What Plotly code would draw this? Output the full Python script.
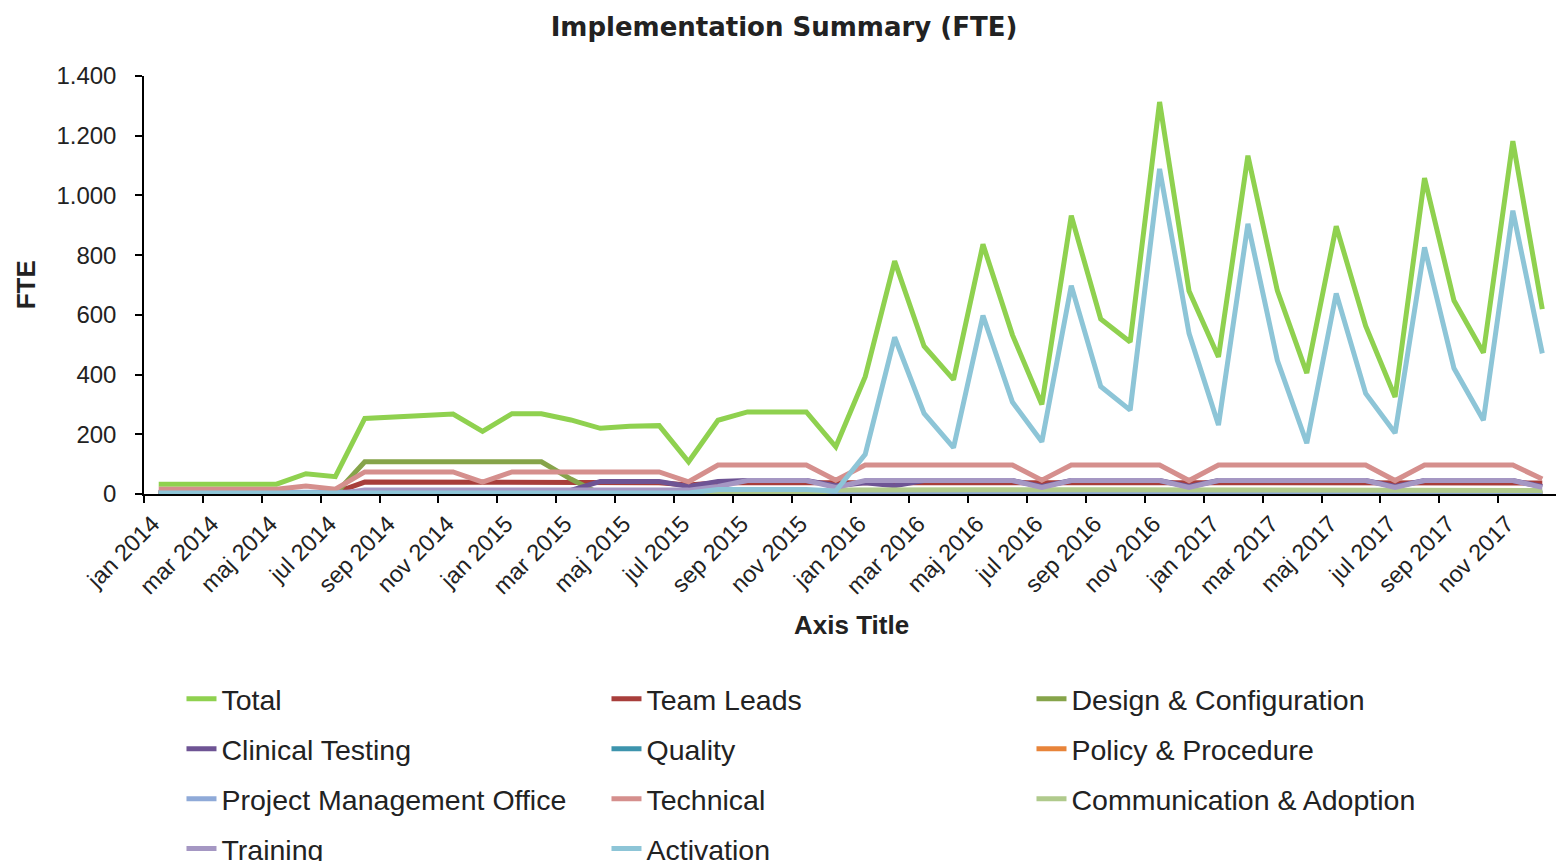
import plotly.graph_objects as go

months = [
    "jan 2014", "feb 2014", "mar 2014", "apr 2014", "maj 2014", "jun 2014",
    "jul 2014", "aug 2014", "sep 2014", "okt 2014", "nov 2014", "dec 2014",
    "jan 2015", "feb 2015", "mar 2015", "apr 2015", "maj 2015", "jun 2015",
    "jul 2015", "aug 2015", "sep 2015", "okt 2015", "nov 2015", "dec 2015",
    "jan 2016", "feb 2016", "mar 2016", "apr 2016", "maj 2016", "jun 2016",
    "jul 2016", "aug 2016", "sep 2016", "okt 2016", "nov 2016", "dec 2016",
    "jan 2017", "feb 2017", "mar 2017", "apr 2017", "maj 2017", "jun 2017",
    "jul 2017", "aug 2017", "sep 2017", "okt 2017", "nov 2017", "dec 2017",
]

total = [33, 33, 33, 33, 33, 68, 58, 253, 258, 262, 268, 210,
         269, 269, 248, 220, 227, 229, 108, 247, 275, 275, 275, 158,
         393, 780, 495, 383, 836, 533, 300, 932, 586, 509, 1313, 680,
         459, 1133, 681, 405, 897, 563, 325, 1058, 648, 473, 1182, 619]

team_leads = [5, 5, 5, 5, 5, 5, 5, 40, 40, 40, 40, 40,
              38, 38, 38, 38, 38, 38, 30, 38, 38, 38, 38, 38,
              38, 38, 38, 38, 38, 38, 36, 38, 38, 38, 38, 38,
              38, 38, 38, 38, 38, 38, 36, 38, 38, 38, 38, 37]

design_config = [0, 0, 0, 0, 0, 0, 0, 108, 108, 108, 108, 108,
                 108, 108, 50, 0, 0, 0, 0, 0, 0, 0, 0, 0,
                 0, 0, 0, 0, 0, 0, 0, 0, 0, 0, 0, 0,
                 0, 0, 0, 0, 0, 0, 0, 0, 0, 0, 0, 0]

clinical_testing = [0, 0, 0, 0, 0, 0, 0, 0, 0, 0, 0, 0,
                    0, 0, 12, 42, 42, 42, 25, 42, 45, 45, 45, 28,
                    38, 28, 45, 45, 45, 45, 25, 45, 45, 45, 45, 25,
                    45, 45, 45, 45, 45, 45, 25, 45, 45, 45, 45, 25]

quality = [3, 3, 3, 3, 3, 3, 3, 3, 3, 3, 3, 3,
           3, 3, 3, 3, 3, 3, 3, 3, 3, 3, 3, 3,
           3, 3, 3, 3, 3, 3, 3, 3, 3, 3, 3, 3,
           3, 3, 3, 3, 3, 3, 3, 3, 3, 3, 3, 3]

policy_procedure = [0, 0, 0, 0, 0, 0, 0, 0, 0, 0, 0, 0,
                    0, 0, 0, 0, 0, 0, 0, 2, 2, 2, 2, 2,
                    2, 2, 2, 2, 2, 2, 2, 2, 2, 2, 2, 2,
                    2, 2, 2, 2, 2, 2, 2, 2, 2, 2, 2, 2]

pmo = [6, 6, 6, 6, 6, 6, 6, 6, 6, 6, 6, 6,
       6, 6, 6, 6, 6, 6, 6, 6, 6, 6, 6, 6,
       6, 6, 6, 6, 6, 6, 6, 6, 6, 6, 6, 6,
       6, 6, 6, 6, 6, 6, 6, 6, 6, 6, 6, 6]

technical = [16, 16, 16, 16, 16, 27, 16, 74, 74, 74, 74, 40,
             74, 74, 74, 74, 74, 74, 41, 97, 97, 97, 97, 46,
             97, 97, 97, 97, 97, 97, 46, 97, 97, 97, 97, 45,
             97, 97, 97, 97, 97, 97, 45, 97, 97, 97, 97, 50]

communication = [0, 0, 0, 0, 0, 0, 0, 0, 0, 0, 0, 0,
                 0, 0, 0, 0, 0, 0, 0, 0, 0, 0, 0, 13,
                 14, 14, 14, 14, 14, 14, 12, 14, 14, 14, 14, 12,
                 14, 14, 14, 14, 14, 14, 12, 14, 14, 14, 14, 12]

training = [0, 0, 0, 0, 0, 0, 0, 13, 13, 13, 13, 13,
            13, 13, 13, 13, 13, 13, 13, 25, 45, 45, 45, 22,
            45, 45, 45, 45, 45, 45, 22, 45, 45, 45, 45, 22,
            45, 45, 45, 45, 45, 45, 22, 45, 45, 45, 45, 22]

activation = [3, 3, 3, 3, 3, 3, 3, 3, 3, 3, 3, 3,
              3, 3, 3, 3, 3, 3, 3, 15, 15, 15, 15, 10,
              133, 525, 270, 155, 598, 308, 175, 698, 360, 281, 1089, 538,
              231, 905, 448, 170, 672, 337, 204, 826, 421, 247, 949, 471]

series = [
    ("Total", total, "#8FD14F", "legend"),
    ("Team Leads", team_leads, "#A83E3B", "legend"),
    ("Design & Configuration", design_config, "#86A44A", "legend"),
    ("Clinical Testing", clinical_testing, "#6E5494", "legend2"),
    ("Quality", quality, "#3D94AD", "legend2"),
    ("Policy & Procedure", policy_procedure, "#E8843A", "legend2"),
    ("Project Management Office", pmo, "#8FAAD8", "legend3"),
    ("Technical", technical, "#D58F8D", "legend3"),
    ("Communication & Adoption", communication, "#B0CA8C", "legend3"),
    ("Training", training, "#A597C3", "legend4"),
    ("Activation", activation, "#8DC5D7", "legend4"),
]

x_idx = list(range(len(months)))

fig = go.Figure()
for name, vals, color, lg in series:
    fig.add_trace(go.Scatter(
        x=x_idx, y=vals, name=name, mode="lines",
        line=dict(color=color, width=5),
        legend=lg,
    ))

# The page body has an 8px margin; work in page pixels and convert.
OFF = 8
FIG_W, FIG_H = 1564 - OFF, 861 - OFF
PLOT_LEFT, PLOT_RIGHT, PLOT_TOP, PLOT_BOTTOM = 143.5, 1557, 76, 494.5  # page px
L = PLOT_LEFT - OFF
R = FIG_W - (PLOT_RIGHT - OFF)
T = PLOT_TOP - OFF
B = FIG_H - (PLOT_BOTTOM - OFF)
W = FIG_W - L - R
H = FIG_H - T - B


def px_to_paper_x(px):
    return (px - OFF - L) / W


def py_to_paper_y(py):
    return (PLOT_BOTTOM - py) / H


legend_font = dict(family="Liberation Sans", size=28.5, color="#222222")
row_y = [700, 750, 800, 850]
legend_names = ["legend", "legend2", "legend3", "legend4"]
legend_layout = {}
for lg, ry in zip(legend_names, row_y):
    legend_layout[lg] = dict(
        orientation="h", x=px_to_paper_x(181), xanchor="left",
        y=py_to_paper_y(ry), yanchor="middle",
        entrywidth=380, entrywidthmode="pixels",
        font=legend_font, bgcolor="rgba(0,0,0,0)", itemwidth=30,
        traceorder="normal",
    )

fig.update_layout(
    width=FIG_W, height=FIG_H,
    margin=dict(l=L, r=R, t=T, b=B, autoexpand=False),
    plot_bgcolor="white", paper_bgcolor="white",
    separators=",.",
    font=dict(family="Liberation Sans", color="#222222"),
    title=dict(
        text="Implementation Summary (FTE)",
        x=(784 - OFF) / FIG_W, xanchor="center", xref="container",
        y=1 - (27 - OFF) / FIG_H, yanchor="middle", yref="container",
        font=dict(family="DejaVu Sans", size=26, weight="bold", color="#222222"),
    ),
    showlegend=True,
    **legend_layout,
)

fig.update_xaxes(
    range=[-0.5, len(months) - 0.5],
    tickvals=x_idx[::2], ticktext=months[::2],
    tickangle=-45, ticks="",
    tickfont=dict(family="Liberation Sans", size=23.5, color="#222222"),
    showline=True, linecolor="black", linewidth=1.5,
    showgrid=False, zeroline=False,
    minor=dict(tickvals=[i - 0.5 for i in range(0, len(months) + 1, 2)],
               ticks="outside", ticklen=7, tickcolor="black", tickwidth=1.5),
    ticklabelstandoff=5,
    ticklabelshift=-6,
)

fig.update_yaxes(
    range=[0, 1400], dtick=200, tickformat=",d",
    ticks="outside", ticklen=7, tickcolor="black", tickwidth=1.5,
    tickfont=dict(family="Liberation Sans", size=24, color="#222222"),
    showline=True, linecolor="black", linewidth=1.5,
    showgrid=False, zeroline=False,
    ticklabelstandoff=14,
)

fig.add_annotation(
    text="Axis Title", xref="paper", yref="paper",
    x=px_to_paper_x(851), y=py_to_paper_y(626),
    xanchor="center", yanchor="middle", showarrow=False,
    font=dict(family="Liberation Sans", size=26, weight="bold", color="#222222"),
)
fig.add_annotation(
    text="FTE", xref="paper", yref="paper",
    x=px_to_paper_x(25), y=py_to_paper_y(285),
    xanchor="center", yanchor="middle", showarrow=False, textangle=-90,
    font=dict(family="Liberation Sans", size=26, weight="bold", color="#222222"),
)

fig.write_html("out.html")
